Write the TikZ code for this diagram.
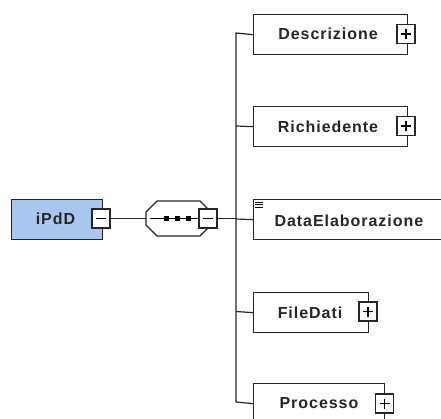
\documentclass[tikz,border=0pt]{standalone}
\usepackage{fontspec}
\setmainfont{Liberation Sans}
\newfontfamily\spacedfont[LetterSpace=6]{Liberation Sans}
\begin{document}
\begin{tikzpicture}[x=1pt,y=-1pt,
  elem/.style={draw=black!85, line width=1.3pt, fill=white, minimum height=40pt, inner sep=0pt},
  lbl/.style={font=\spacedfont\fontsize{16}{16}\selectfont\bfseries, text=black!85},
  pm/.style={draw=black!85, line width=1.1pt, fill=white, minimum width=18pt, minimum height=19pt, inner sep=0pt},
  conn/.style={draw=black!85, line width=1.2pt}]
\useasboundingbox (0,0) rectangle (441,418);
% root
\node[elem, fill={rgb,255:red,168;green,198;blue,238}, minimum width=91pt, anchor=north west] (root) at (11,199) {};
\node[lbl] (roott) at (55.5,218.5) {iPdD};
\node[pm] (rm) at (101,218.5) {};
\draw[line width=1.1pt] ([xshift=-5pt]rm.center) -- ([xshift=5pt]rm.center);
% compositor
\coordinate (sl) at (146,218.5);
\draw[line width=1.3pt, draw=black!85, fill=white] (157,201) -- (200,201) -- (208,209) -- (208,228) -- (200,236) -- (157,236) -- (146,225) -- (146,212) -- cycle;
\draw[line width=1pt] (150,218.5) -- (199,218.5);
\foreach \xx in {166,177,188} \fill (\xx-2.5,216) rectangle (\xx+2.5,221);
\node[pm] (sm) at (208,218.5) {};
\draw[line width=1.1pt] ([xshift=-5pt]sm.center) -- ([xshift=5pt]sm.center);
\draw[conn] (rm.east) -- (sl);
\draw[conn] (sm.east) -- (236,218.5);
% children
\node[elem, minimum width=154pt, anchor=north west] (d) at (253,14) {};
\node[lbl] at (328,34) {Descrizione};
\node[pm] (dp) at (406,34) {};
\node[elem, minimum width=154pt, anchor=north west] (r) at (253,106) {};
\node[lbl] at (328,127) {Richiedente};
\node[pm] (rp) at (406,126) {};
\node[elem, minimum width=200pt, anchor=north west] (de) at (253,199) {};
\node[lbl, anchor=west] at (271,220.5) {DataElaborazione};
\foreach \yy in {202,204.5,207} \draw[line width=0.9pt] (255,\yy) -- (263,\yy);
\node[elem, minimum width=115pt, anchor=north west] (f) at (253,292) {};
\node[lbl] at (310,312.5) {FileDati};
\node[pm] (fp) at (368,311.5) {};
\node[elem, minimum width=131pt, anchor=north west] (p) at (253,383) {};
\node[lbl] at (319,403.5) {Processo};
\node[pm] (pp) at (384.5,403.5) {};
\foreach \n in {dp,rp,fp,pp} {
  \draw[line width=1.1pt] ([xshift=-5pt]\n.center) -- ([xshift=5pt]\n.center);
  \draw[line width=1.1pt] ([yshift=-5pt]\n.center) -- ([yshift=5pt]\n.center);
}
% trunk
\draw[conn] (d.west) -- (236,33) -- (236,402) -- (p.west);
\draw[conn] (236,126) -- (r.west);
\draw[conn] (236,219) -- (de.west);
\draw[conn] (236,311.5) -- (f.west);
\end{tikzpicture}
\end{document}
